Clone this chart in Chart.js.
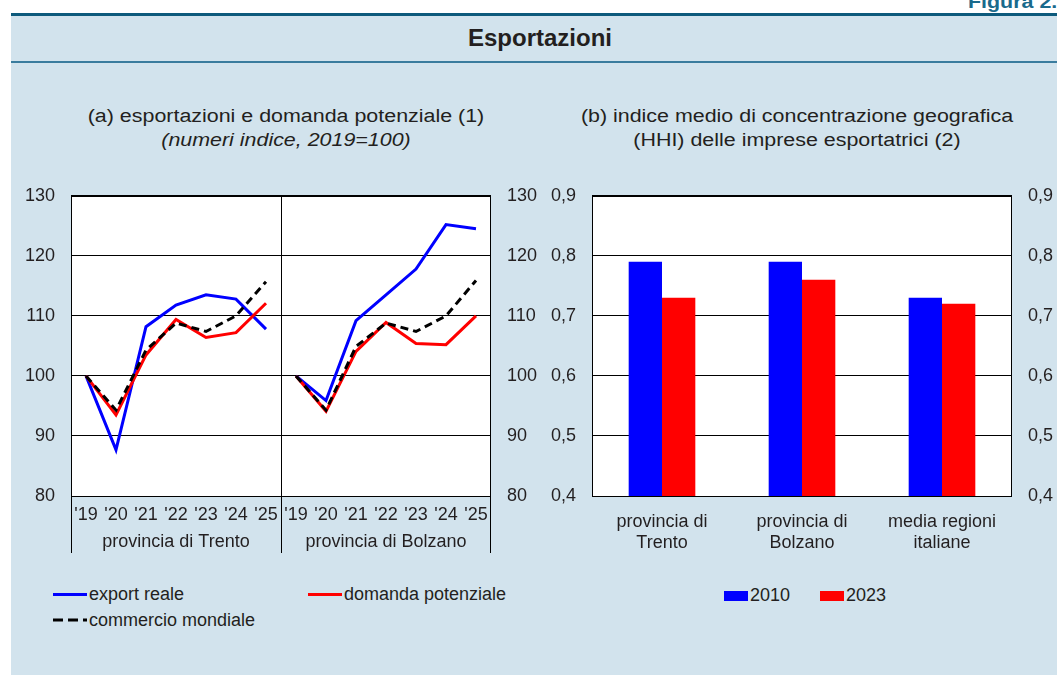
<!DOCTYPE html>
<html><head><meta charset="utf-8">
<script src="https://cdn.jsdelivr.net/npm/chart.js@4.4.0/dist/chart.umd.min.js"></script>
<style>
html,body{margin:0;padding:0;background:#fff;width:1057px;height:675px;overflow:hidden;font-family:"Liberation Sans",Arial,Helvetica,sans-serif;color:#231f20;}
.abs{position:absolute;}
#bg{left:11px;top:13px;width:1046px;height:662px;background:#d2e3ed;}
#topline{left:11px;top:13px;width:1046px;height:3px;background:#0d5a7c;}
#midline{left:11px;top:61px;width:1046px;height:2px;background:#3a7c9e;}
#fig{left:968px;top:-10px;font-weight:bold;font-size:18px;line-height:24px;color:#1a6a8c;white-space:nowrap;transform:scaleX(1.19);transform-origin:left center;}
#title{left:11px;width:1058px;top:26px;text-align:center;font-weight:bold;font-size:24px;line-height:24px;}
.sub{width:400px;text-align:center;font-size:18px;line-height:24px;top:104px;white-space:nowrap;transform:scaleX(1.19);transform-origin:center center;}
.leg{font-size:18px;line-height:24px;white-space:nowrap;}
</style>
</head><body>
<div id="bg" class="abs"></div>
<div id="topline" class="abs"></div>
<div id="midline" class="abs"></div>
<div id="fig" class="abs">Figura 2.</div>
<div id="title" class="abs">Esportazioni</div>
<div class="abs sub" style="left:86px;">(a) esportazioni e domanda potenziale (1)<br><i>(numeri indice, 2019=100)</i></div>
<div class="abs sub" style="left:597px;">(b) indice medio di concentrazione geografica<br>(HHI) delle imprese esportatrici (2)</div>

<div class="abs" style="left:0px;top:169px;width:560px;height:401px;"><canvas id="c1"></canvas></div>
<div class="abs" style="left:540px;top:169px;width:517px;height:401px;"><canvas id="c2"></canvas></div>

<!-- legends -->
<div class="abs" style="left:53px;top:593px;width:34px;height:3px;background:#0000ff;"></div>
<div class="abs leg" style="left:89px;top:582px;">export reale</div>
<div class="abs" style="left:308px;top:593px;width:34px;height:3px;background:#ff0000;"></div>
<div class="abs leg" style="left:344px;top:582px;">domanda potenziale</div>
<svg class="abs" style="left:53px;top:618px;" width="34" height="4"><line x1="0" y1="2" x2="34" y2="2" stroke="#000" stroke-width="3" stroke-dasharray="10 5"/></svg>
<div class="abs leg" style="left:89px;top:608px;">commercio mondiale</div>
<div class="abs" style="left:724px;top:591px;width:24px;height:10px;background:#0000ff;"></div>
<div class="abs leg" style="left:750px;top:583px;">2010</div>
<div class="abs" style="left:820px;top:591px;width:24px;height:10px;background:#ff0000;"></div>
<div class="abs leg" style="left:846px;top:583px;">2023</div>

<script>
// ---- data ----
const years = ["'19","'20","'21","'22","'23","'24","'25"];
const provinces = ["provincia di Trento","provincia di Bolzano"];
const trentoExport    = [100, 87.7, 108.2, 111.8, 113.5, 112.8, 107.8];
const trentoDomanda   = [100, 93.5, 103.5, 109.4, 106.4, 107.2, 112.1];
const trentoCommercio = [100, 94.3, 104.3, 108.8, 107.4, 110.0, 115.7];
const bolzanoExport    = [100, 95.9, 109.2, 113.5, 117.8, 125.2, 124.5];
const bolzanoDomanda   = [100, 94.1, 104.1, 108.9, 105.4, 105.2, 110.0];
const bolzanoCommercio = [100, 94.3, 104.9, 108.8, 107.4, 110.0, 115.9];
const indexAxisMin = 80, indexAxisMax = 130, indexAxisStep = 10;

const barCategories = [["provincia di","Trento"],["provincia di","Bolzano"],["media regioni","italiane"]];
const hhi2010 = [0.79, 0.79, 0.73];
const hhi2023 = [0.73, 0.76, 0.72];
const hhiAxisMin = 0.4, hhiAxisMax = 0.9, hhiAxisStep = 0.1;

// ---- helpers ----
Chart.defaults.font.family = "'Liberation Sans', Arial, Helvetica, sans-serif";
Chart.defaults.font.size = 18;
Chart.defaults.color = '#231f20';
Chart.defaults.animation = false;

const pad7 = Array(7).fill(null);
const BLUE = '#0000ff', RED = '#ff0000', BLACK = '#000000';

function fixW(w){ return function(s){ s.width = w; }; }
function fixH(h){ return function(s){ s.height = h; }; }

const whiteArea = {
  id: 'whiteArea',
  beforeDraw(chart){
    const {ctx, chartArea:a} = chart;
    ctx.save(); ctx.fillStyle = '#fff';
    ctx.fillRect(a.left, a.top, a.right - a.left, a.bottom - a.top);
    ctx.restore();
  },
  afterDraw(chart){
    const {ctx, chartArea:a} = chart;
    ctx.save(); ctx.strokeStyle = '#000'; ctx.lineWidth = 1;
    ctx.strokeRect(Math.round(a.left)+0.5, Math.round(a.top)+0.5, Math.round(a.right-a.left)-1, Math.round(a.bottom-a.top));
    ctx.restore();
  }
};

const panels = {
  id: 'panels',
  afterDraw(chart){
    const {ctx, chartArea:a} = chart;
    const xs = chart.scales.x;
    const mid = (xs.getPixelForValue(6) + xs.getPixelForValue(7)) / 2;
    const bottomEnd = a.bottom + 57;
    ctx.save();
    ctx.strokeStyle = '#000'; ctx.lineWidth = 1;
    ctx.beginPath();
    [xs.left, mid, xs.right].forEach((x, i) => {
      const px = Math.round(x) + (i === 2 ? -0.5 : 0.5);
      ctx.moveTo(px, i === 1 ? a.top : a.bottom);
      ctx.lineTo(px, bottomEnd);
    });
    ctx.stroke();
    ctx.fillStyle = '#231f20';
    ctx.font = "18px 'Liberation Sans', Arial, sans-serif";
    ctx.textAlign = 'center'; ctx.textBaseline = 'middle';
    ctx.fillText(provinces[0], xs.getPixelForValue(3), a.bottom + 46);
    ctx.fillText(provinces[1], xs.getPixelForValue(10), a.bottom + 46);
    ctx.restore();
  }
};

function lineDs(label, data, color, dash){
  return {label, data, borderColor: color, backgroundColor: color, borderWidth: 3,
    borderDash: dash || [], pointRadius: 0, tension: 0, spanGaps: false, yAxisID: 'y'};
}

const yIndexCommon = {min: indexAxisMin, max: indexAxisMax,
  ticks: {stepSize: indexAxisStep, padding: 16, color: '#231f20'},
};

new Chart(document.getElementById('c1'), {
  type: 'line',
  data: {
    labels: years.concat(years),
    datasets: [
      lineDs('commercio mondiale', trentoCommercio.concat(pad7), BLACK, [8,5]),
      lineDs('commercio mondiale', pad7.concat(bolzanoCommercio), BLACK, [8,5]),
      lineDs('domanda potenziale', trentoDomanda.concat(pad7), RED),
      lineDs('domanda potenziale', pad7.concat(bolzanoDomanda), RED),
      lineDs('export reale', trentoExport.concat(pad7), BLUE),
      lineDs('export reale', pad7.concat(bolzanoExport), BLUE)
    ]
  },
  options: {
    responsive: true, maintainAspectRatio: false,
    layout: {padding: {top: 5, left: 0, right: 0, bottom: 0}},
    plugins: {legend: {display: false}, tooltip: {enabled: false}},
    scales: {
      x: {offset: true, grid: {display: false}, border: {display: false},
          ticks: {padding: 0, autoSkip: false, maxRotation: 0, color: '#231f20'},
          afterFit: fixH(74)},
      y: Object.assign({position: 'left', grid: {color: '#000', lineWidth: 1, drawTicks: false},
          border: {display: false}, afterFit: fixW(71)}, yIndexCommon),
      y2: Object.assign({position: 'right', grid: {display: false, drawTicks: false},
          border: {display: false}, afterFit: fixW(69)}, yIndexCommon)
    }
  },
  plugins: [whiteArea, panels]
});

const fmtComma = v => v.toFixed(1).replace('.', ',');
const yHhiCommon = {min: hhiAxisMin, max: hhiAxisMax,
  ticks: {stepSize: hhiAxisStep, padding: 16, color: '#231f20', callback: v => fmtComma(v)}};

new Chart(document.getElementById('c2'), {
  type: 'bar',
  data: {
    labels: barCategories,
    datasets: [
      {label: '2010', data: hhi2010, backgroundColor: BLUE, borderWidth: 0, yAxisID: 'y'},
      {label: '2023', data: hhi2023, backgroundColor: RED, borderWidth: 0, yAxisID: 'y'}
    ]
  },
  options: {
    responsive: true, maintainAspectRatio: false,
    layout: {padding: {top: 5, left: 0, right: 0, bottom: 0}},
    plugins: {legend: {display: false}, tooltip: {enabled: false}},
    datasets: {bar: {categoryPercentage: 0.476, barPercentage: 1}},
    scales: {
      x: {grid: {display: false}, border: {display: false},
          ticks: {padding: 7, autoSkip: false, maxRotation: 0, color: '#231f20'},
          afterFit: fixH(74)},
      y: Object.assign({position: 'left', grid: {color: '#000', lineWidth: 1, drawTicks: false},
          border: {display: false}, afterFit: fixW(52)}, yHhiCommon),
      y2: Object.assign({position: 'right', grid: {display: false, drawTicks: false},
          border: {display: false}, afterFit: fixW(45)}, yHhiCommon)
    }
  },
  plugins: [whiteArea]
});
</script>
</body></html>
